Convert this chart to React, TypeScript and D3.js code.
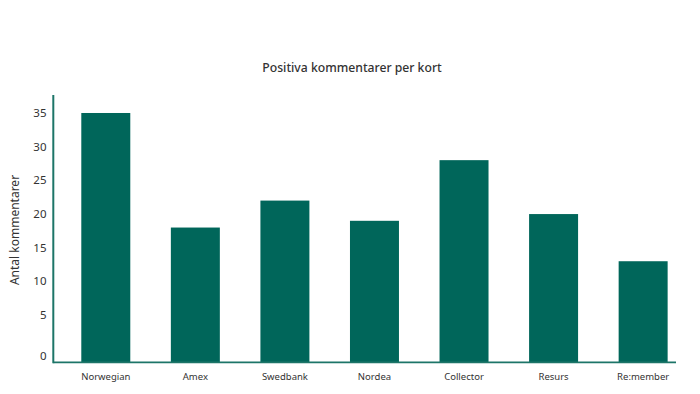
import React from "react";
import * as d3 from "d3";

const categories: string[] = ["Norwegian", "Amex", "Swedbank", "Nordea", "Collector", "Resurs", "Re:member"];
const values: number[] = [35, 18, 22, 19, 28, 20, 13];
const yTicks: number[] = [0, 5, 10, 15, 20, 25, 30, 35];
const title = "Positiva kommentarer per kort";
const yTitle = "Antal kommentarer";

const W = 700;
const H = 394;
const BAR = "#00665a";
const AXIS = "#1d7568";
const TEXT = "#333333";
const FONT = "'Noto Sans', 'Open Sans', sans-serif";

export default function App() {
  const left = 53.3;
  const right = 676;
  const base = 362.3;
  const top = 95;

  const x = d3
    .scaleBand<string>()
    .domain(categories)
    .range([left, right])
    .paddingInner(0.453)
    .paddingOuter(0.203)
    .align(0.77);

  const y = d3.scaleLinear().domain([-2, 37.67]).range([base, top]);

  return (
    <svg
      width={W}
      height={H}
      style={{ position: "absolute", left: 0, top: 0, background: "#fff" }}
      fontFamily={FONT}
    >
      <rect x={0} y={0} width={W} height={H} fill="#fff" />
      <text x={352} y={72} textAnchor="middle" fontSize={12.2} fontWeight={500} fill={TEXT}>
        {title}
      </text>
      <text
        transform={`translate(19,${230}) rotate(-90)`}
        textAnchor="middle"
        fontSize={12}
        fill={TEXT}
      >
        {yTitle}
      </text>
      {categories.map((c, i) => (
        <rect
          key={c}
          x={x(c)}
          y={y(values[i])}
          width={x.bandwidth()}
          height={y(-2) - y(values[i])}
          fill={BAR}
        />
      ))}
      {yTicks.map((t) => {
        const ty = t === 0 ? (y(0) + y(-2)) / 2 : y(t);
        return (
          <text key={t} x={46.5} y={ty} dy="0.35em" textAnchor="end" fontSize={11.5} fill={TEXT}>
            {t}
          </text>
        );
      })}
      {categories.map((c) => (
        <text
          key={c}
          x={(x(c) as number) + x.bandwidth() / 2}
          y={377}
          dy="0.35em"
          textAnchor="middle"
          fontSize={9.5}
          fill={TEXT}
        >
          {c}
        </text>
      ))}
      <line x1={left} x2={left} y1={top} y2={base + 1} stroke={AXIS} strokeWidth={2} />
      <line x1={left} x2={right} y1={base} y2={base} stroke={AXIS} strokeWidth={1.8} />
    </svg>
  );
}
